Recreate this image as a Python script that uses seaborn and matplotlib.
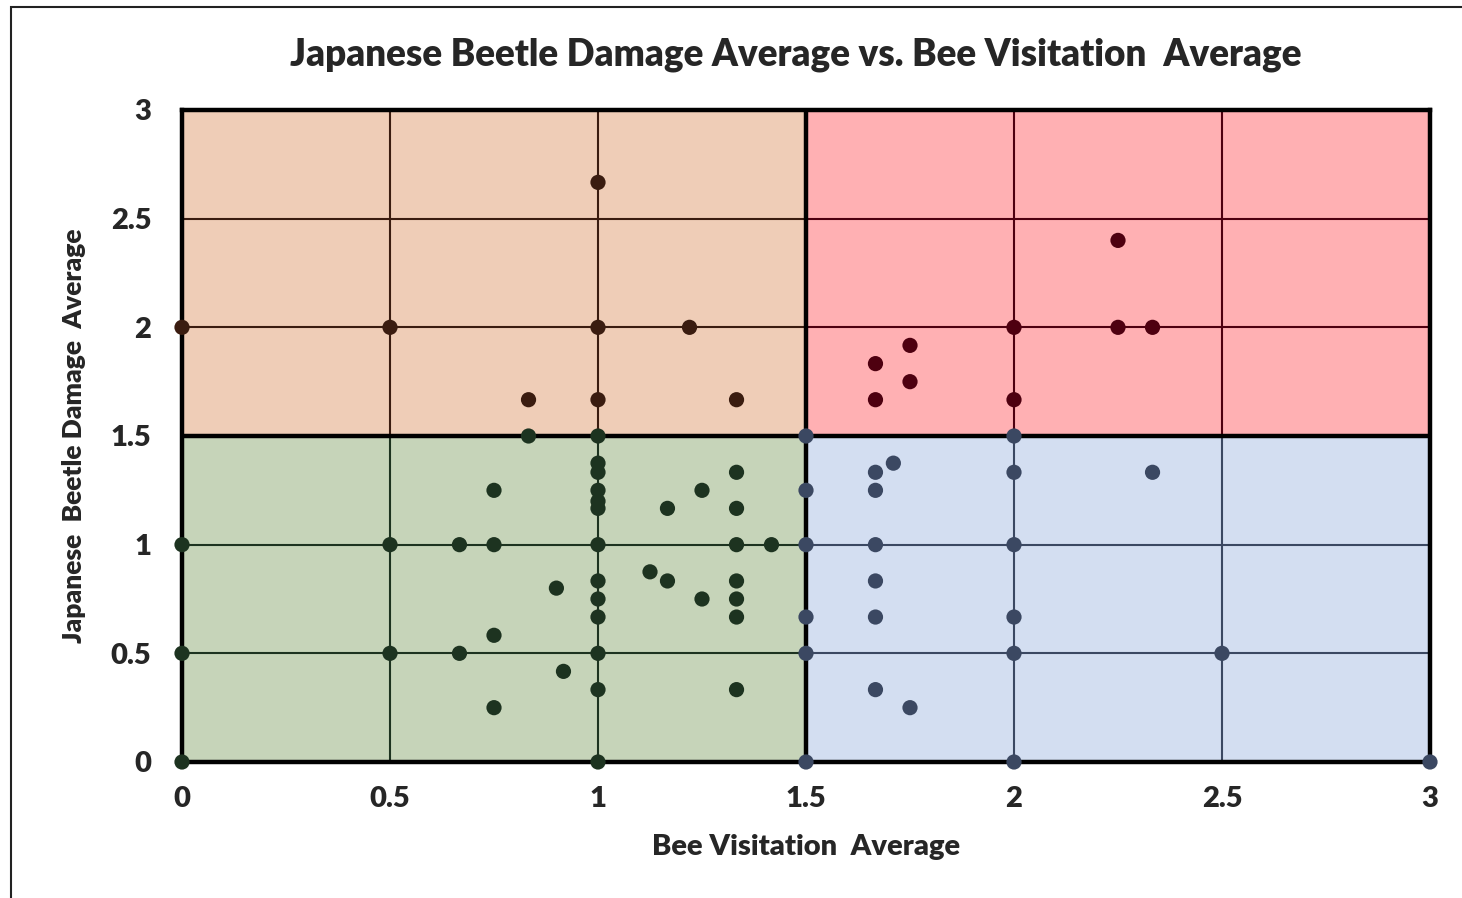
import matplotlib
matplotlib.use("Agg")
import matplotlib.pyplot as plt
import seaborn as sns
import pandas as pd
from matplotlib.patches import Rectangle

sns.set_style("white")
plt.rcParams["font.family"] = ["Lato", "DejaVu Sans"]

# ------------------------------------------
# DATA
# ------------------------------------------
ul_bee = [1, 0, 0.5, 1, 1.22, 0.833, 1, 1.333]
ul_dmg = [2.667, 2, 2, 2, 2, 1.667, 1.667, 1.667]

ll_bee = [0.833, 1, 1, 1, 1.333, 0.75, 1, 1.25, 1, 1, 1.167, 1.333,
          0, 0.5, 0.667, 0.75, 1, 1.333, 1.417, 1.125, 1.167, 0.9, 1, 1.333,
          1, 1.25, 1.333, 1, 1.333, 0.75, 0, 0.5, 0.667, 1, 0.917,
          1, 1.333, 0.75, 0, 1]
ll_dmg = [1.5, 1.5, 1.375, 1.333, 1.333, 1.25, 1.25, 1.25, 1.2, 1.167, 1.167, 1.167,
          1, 1, 1, 1, 1, 1, 1, 0.875, 0.833, 0.8, 0.833, 0.833,
          0.75, 0.75, 0.75, 0.667, 0.667, 0.583, 0.5, 0.5, 0.5, 0.5, 0.417,
          0.333, 0.333, 0.25, 0, 0]

lr_bee = [1.5, 2, 1.71, 1.667, 2, 2.333, 1.5, 1.667, 1.5, 1.667, 2, 1.667,
          1.5, 1.667, 2, 1.5, 2, 2.5, 1.667, 1.75, 1.5, 2, 3]
lr_dmg = [1.5, 1.5, 1.375, 1.333, 1.333, 1.333, 1.25, 1.25, 1, 1, 1, 0.833,
          0.667, 0.667, 0.667, 0.5, 0.5, 0.5, 0.333, 0.25, 0, 0, 0]

ur_bee = [2.25, 2, 2.25, 2.333, 1.75, 1.667, 1.75, 1.667, 2]
ur_dmg = [2.4, 2, 2, 2, 1.917, 1.833, 1.75, 1.667, 1.667]

x_ticks = [0, 0.5, 1, 1.5, 2, 2.5, 3]
y_ticks = [0, 0.5, 1, 1.5, 2, 2.5, 3]
x_tick_labels = ["0", "0.5", "1", "1.5", "2", "2.5", "3"]
y_tick_labels = ["0", "0.5", "1", "1.5", "2", "2.5", "3"]

df = pd.concat([
    pd.DataFrame({"bee": ul_bee, "dmg": ul_dmg, "quad": "ul"}),
    pd.DataFrame({"bee": ll_bee, "dmg": ll_dmg, "quad": "ll"}),
    pd.DataFrame({"bee": lr_bee, "dmg": lr_dmg, "quad": "lr"}),
    pd.DataFrame({"bee": ur_bee, "dmg": ur_dmg, "quad": "ur"}),
])

# quadrant styles: (x0, x1, y0, y1, fill, grid/marker colour)
quads = {
    "ul": (0, 1.5, 1.5, 3, "#efcdb7", "#3a1c10"),
    "ll": (0, 1.5, 0, 1.5, "#c6d4b9", "#1d3320"),
    "lr": (1.5, 3, 0, 1.5, "#d3def1", "#3b4862"),
    "ur": (1.5, 3, 1.5, 3, "#ffb0b3", "#4e0010"),
}

# ------------------------------------------
# PLOT
# ------------------------------------------
fig = plt.figure(figsize=(14.62, 8.98), dpi=100)
ax = fig.add_axes([182 / 1462, 1 - 762 / 898, 1248 / 1462, 652 / 898])

for key, (x0, x1, y0, y1, fill, line) in quads.items():
    ax.add_patch(Rectangle((x0, y0), x1 - x0, y1 - y0, facecolor=fill,
                           edgecolor="none", zorder=0))
    for gx in x_ticks:
        if x0 < gx < x1:
            ax.plot([gx, gx], [y0, y1], color=line, lw=1.5, zorder=1)
    for gy in y_ticks:
        if y0 < gy < y1:
            ax.plot([x0, x1], [gy, gy], color=line, lw=1.5, zorder=1)

# thick quadrant dividers
ax.axvline(1.5, color="black", lw=3.2, zorder=2)
ax.axhline(1.5, color="black", lw=3.2, zorder=2)

sns.scatterplot(data=df, x="bee", y="dmg", hue="quad",
                palette={k: v[5] for k, v in quads.items()},
                s=120, edgecolor="none", legend=False, ax=ax, zorder=3,
                clip_on=False)

ax.set_xlim(0, 3)
ax.set_ylim(0, 3)
ax.set_xticks(x_ticks)
ax.set_xticklabels(x_tick_labels)
ax.set_yticks(y_ticks)
ax.set_yticklabels(y_tick_labels)
ax.tick_params(axis="x", length=0, pad=17, labelsize=21)
ax.tick_params(axis="y", length=0, pad=22, labelsize=21)
for lab in ax.get_xticklabels() + ax.get_yticklabels():
    lab.set_fontweight("heavy")

for sp in ax.spines.values():
    sp.set_visible(True)
    sp.set_color("black")
    sp.set_linewidth(3.2)
    sp.set_zorder(2)

ax.set_xlabel("Bee Visitation  Average", fontsize=21, fontweight="heavy",
              labelpad=16)
ax.set_ylabel("Japanese  Beetle Damage  Average", fontsize=19,
              fontweight="heavy", labelpad=18)

fig.text(796 / 1462, 1 - 55 / 898,
         "Japanese Beetle Damage Average vs. Bee Visitation  Average",
         ha="center", va="center", fontsize=26.5, fontweight="heavy")

# outer chart border (cropped on the right and bottom)
fig.patches.append(Rectangle((11 / 1462, -0.05), 1.1, 1 - 7 / 898 + 0.05,
                             transform=fig.transFigure, fill=False,
                             edgecolor="#222222", lw=1.5))

fig.savefig("out.png", dpi=100)
